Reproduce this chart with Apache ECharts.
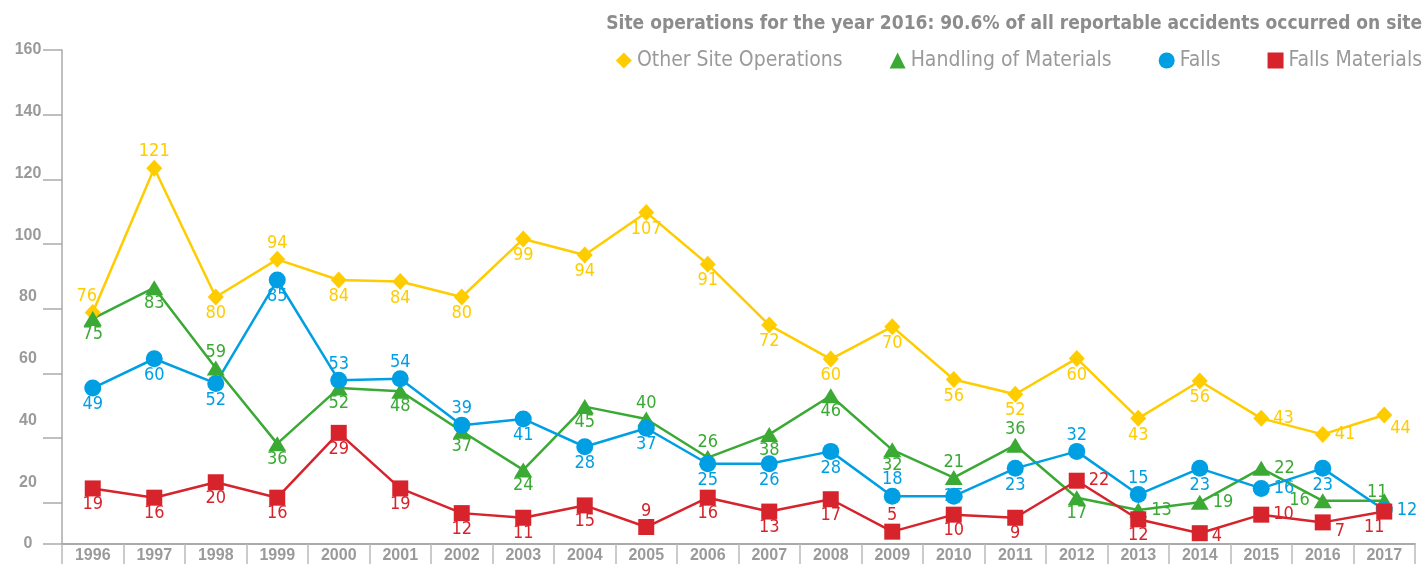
<!DOCTYPE html>
<html>
<head>
<meta charset="utf-8">
<title>Site operations 1996-2017</title>
<script src="https://cdn.jsdelivr.net/npm/echarts@6/dist/echarts.min.js"></script>
<style>
    html, body { margin: 0; padding: 0; background: #fff; }
    #chart { width: 1424px; height: 566px; }
</style>
</head>
<body>
<div id="chart"></div>
<script>
// --- data (plotted positions, printed labels kept apart) ---
const years = ['1996', '1997', '1998', '1999', '2000', '2001', '2002', '2003', '2004', '2005', '2006',
    '2007', '2008', '2009', '2010', '2011', '2012', '2013', '2014', '2015', '2016', '2017'];
const yTicks = [0, 20, 40, 60, 80, 100, 120, 140, 160];

const otherSiteOps = [75, 121.7, 80, 92.2, 85.5, 85, 80, 98.8, 93.6, 107.4, 90.6, 70.9, 59.9, 70.4, 53.3, 48.5, 60.1, 40.7, 52.8, 40.7, 35.5, 41.8];
const otherSiteOpsText = [76, 121, 80, 94, 84, 84, 80, 99, 94, 107, 91, 72, 60, 70, 56, 52, 60, 43, 56, 43, 41, 44];

const handling = [73, 83, 57, 32.5, 50.5, 49.5, 36.5, 24, 44.5, 40.5, 28, 35.5, 48, 30.5, 21.5, 32, 15, 11, 13.5, 24.5, 14, 14];
const handlingText = [75, 83, 59, 36, 52, 48, 37, 24, 45, 40, 26, 38, 46, 32, 21, 36, 17, 13, 19, 22, 16, 11];

const falls = [50.5, 60, 52, 85.5, 53, 53.5, 38.5, 40.5, 31.5, 37.5, 26, 26, 30, 15.5, 15.5, 24.5, 30, 16, 24.5, 18, 24.5, 11];
const fallsText = [49, 60, 52, 85, 53, 54, 39, 41, 28, 37, 25, 26, 28, 18, 15, 23, 32, 15, 23, 16, 23, 12];

const fallsMaterials = [18, 15, 20, 15, 36, 18, 10, 8.5, 12.5, 5.5, 15, 10.5, 14.5, 4, 9.5, 8.5, 20.5, 8, 3.5, 9.5, 7, 10.5];
const fallsMaterialsText = [19, 16, 20, 16, 29, 19, 12, 11, 15, 9, 16, 13, 17, 5, 10, 9, 22, 12, 4, 10, 7, 11];

// label placement per point (style only)
const B = 'bottom', T = 'top', R = 'right', L = 'left', I = 'inside';
const otherSiteOpsPos = [T, T, B, T, B, B, B, B, B, B, B, B, B, B, B, B, B, B, B, R, R, R];
const handlingPos = [B, B, T, B, B, B, B, B, B, T, T, B, B, B, T, T, B, R, R, R, L, T];
const fallsPos = [B, B, B, B, T, T, T, B, B, B, B, B, B, T, I, B, T, T, B, R, B, R];
const fallsMaterialsPos = [B, B, B, B, B, B, B, B, B, T, B, B, B, T, B, B, R, B, R, R, R, B];
const labelOffsets = {
    'Other Site Operations': { 0: [-6, 0], 21: [-6, 13] },
    'Handling of Materials': { 21: [-7, 7] },
    'Falls Materials': { 18: [0, 3], 20: [0, 9], 21: [-10, 0] }
};

const FONT = "'Liberation Sans Narrow', 'DejaVu Sans Condensed', 'Roboto', sans-serif";
const AXIS_FONT = "'Liberation Sans', Arial, sans-serif";
const GREY = '#9a9a9a';

const chart = echarts.init(document.getElementById('chart'));

function buildSeries(name, values, texts, positions, color, symbol, symbolSize) {
    const offsets = labelOffsets[name] || {};
    return {
        name: name,
        type: 'line',
        yAxisIndex: 0,
        symbol: symbol,
        symbolSize: symbolSize,
        showAllSymbol: true,
        lineStyle: { color: color, width: 2.5 },
        itemStyle: { color: color },
        label: {
            show: true,
            color: color,
            fontFamily: FONT,
            fontSize: 18,
            distance: -1,
            formatter: p => String(texts[p.dataIndex])
        },
        emphasis: { disabled: true },
        data: values.map((v, i) => ({
            value: v,
            label: {
                position: positions[i],
                distance: positions[i] === R || positions[i] === L ? 4 : -1,
                offset: offsets[i] || [0, 0]
            }
        }))
    };
}

const option = {
    animation: false,
    title: {
        text: 'Site operations for the year 2016: 90.6% of all reportable accidents occurred on site',
        right: 2,
        top: 15,
        padding: 0,
        textStyle: { color: '#8c8c8c', fontFamily: FONT, fontSize: 19, fontWeight: 'bold' }
    },
    legend: {
        right: 2,
        top: 50,
        padding: 0,
        itemWidth: 16,
        itemHeight: 16,
        itemGap: 47,
        textStyle: { color: GREY, fontFamily: FONT, fontSize: 21 },
        data: [
            { name: 'Other Site Operations', icon: 'diamond' },
            { name: 'Handling of Materials', icon: 'triangle' },
            { name: 'Falls', icon: 'circle' },
            { name: 'Falls Materials', icon: 'rect' }
        ]
    },
    grid: { left: 62, right: 9, top: 50, bottom: 22, containLabel: false },
    xAxis: {
        type: 'category',
        data: years,
        boundaryGap: true,
        axisLine: { lineStyle: { color: '#aaaaaa', width: 2 } },
        axisTick: { show: true, length: 20, lineStyle: { color: '#bbbbbb', width: 1.5 } },
        axisLabel: { color: GREY, fontFamily: AXIS_FONT, fontSize: 16, fontWeight: 'bold', margin: 4 }
    },
    yAxis: [
        {
            type: 'value',
            min: yTicks[0],
            max: yTicks[yTicks.length - 1],
            interval: 20,
            axisLine: { show: true, lineStyle: { color: '#aaaaaa', width: 1.5 } },
            axisTick: { show: false },
            splitLine: { show: false },
            axisLabel: { color: GREY, fontFamily: AXIS_FONT, fontSize: 16, fontWeight: 'bold', align: 'center', margin: 34 }
        },
        {
            // the tick marks in the picture sit on their own spacing, counted from the top
            type: 'value',
            position: 'left',
            inverse: true,
            min: 0,
            max: 152.7,
            interval: 20,
            axisLine: { show: false },
            axisTick: { show: true, length: 19, lineStyle: { color: '#aaaaaa', width: 1.5 } },
            axisLabel: { show: false },
            splitLine: { show: false }
        }
    ],
    series: [
        buildSeries('Other Site Operations', otherSiteOps, otherSiteOpsText, otherSiteOpsPos, '#ffcc00', 'diamond', [16, 17]),
        buildSeries('Handling of Materials', handling, handlingText, handlingPos, '#3aaa35', 'triangle', [18, 15]),
        buildSeries('Falls', falls, fallsText, fallsPos, '#009fe3', 'circle', 17),
        buildSeries('Falls Materials', fallsMaterials, fallsMaterialsText, fallsMaterialsPos, '#d6232c', 'rect', 16)
    ]
};

chart.setOption(option);
</script>
</body>
</html>
